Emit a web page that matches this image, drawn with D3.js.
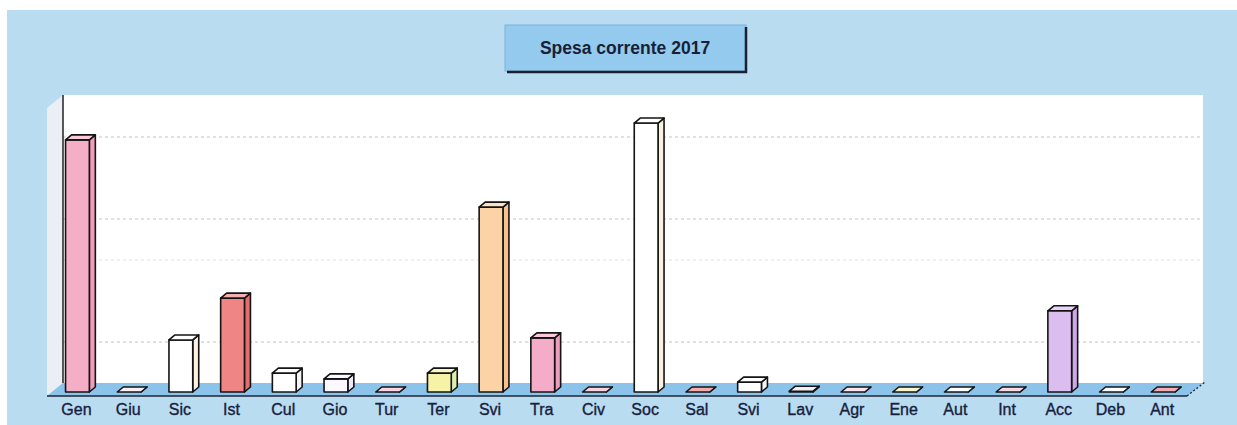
<!DOCTYPE html>
<meta charset="utf-8">
<style>
body { margin: 0; background: #fff; }
.axis text { font: 16px "Liberation Sans", Arial, sans-serif; fill: #17203c; stroke: #17203c; stroke-width: 0.35; }
.title { font: bold 17.5px "Liberation Sans", Arial, sans-serif; fill: #1a1f38; }
.grid line { stroke: #b4b4b4; stroke-dasharray: 3,3; }
</style>
<svg width="1237" height="425"></svg>
<script src="https://d3js.org/d3.v7.min.js"></script>
<script>

var categories = ["Gen", "Giu", "Sic", "Ist", "Cul", "Gio", "Tur", "Ter", "Svi", "Tra", "Civ",
                  "Soc", "Sal", "Svi", "Lav", "Agr", "Ene", "Aut", "Int", "Acc", "Deb", "Ant"];

// heights, in gridline units
var values = [6.15, 0, 1.27, 2.29, 0.46, 0.32, 0, 0.46, 4.51, 1.32, 0,
              6.56, 0, 0.24, 0.02, 0, 0, 0, 0, 1.98, 0, 0];

var frontColors = ["#f4aec6", "#fde6ef", "#ffffff", "#ef8585", "#ffffff", "#fbf8ff", "#f7c0d4", "#f6f3a8", "#fbd3a6", "#f5acc8", "#f5bcd0",
                   "#ffffff", "#ee8080", "#ffffff", "#e6e6ee", "#f8d6e4", "#f8f0b0", "#ffffff", "#f6c6d2", "#dcbdf0", "#ffffff", "#ee7f90"];

var sideColors = ["#f09cba", "#fde6ef", "#fcf1e2", "#e46e6e", "#f4f4f4", "#eee8f8", "#f7c0d4", "#dcefae", "#f6c18c", "#ee9cbc", "#f5bcd0",
                  "#fcf0e0", "#ee8080", "#f4f4f4", "#e6e6ee", "#f8d6e4", "#f8f0b0", "#ffffff", "#f6c6d2", "#cca8e6", "#ffffff", "#ee7f90"];

var gridTicks = [1, 3, 4, 6];

var svg = d3.select("svg");

var plot = {left: 63, right: 1203, top: 95, back: 383, front: 396},
    depth = {x: 6, y: 5};

var x = d3.scaleBand()
    .domain(d3.range(categories.length))
    .range([51.6, 1189])
    .paddingInner(0.54)
    .paddingOuter(0.27);

var y = d3.scaleLinear()
    .domain([0, 7])
    .range([392, 105]);

// outer blue panel
svg.append("rect")
    .attr("x", 7).attr("y", 10)
    .attr("width", 1230).attr("height", 415)
    .attr("fill", "#b9dcf1");

// title box
svg.append("rect")
    .attr("x", 505).attr("y", 25)
    .attr("width", 241).attr("height", 46)
    .attr("fill", "#93caee")
    .attr("stroke", "#7ab4dc")
    .attr("stroke-width", 1);

svg.append("path")
    .attr("d", "M746,27V72H507")
    .attr("fill", "none")
    .attr("stroke", "#1c1f30")
    .attr("stroke-width", 2.5);

svg.append("text")
    .attr("class", "title")
    .attr("x", 625).attr("y", 54)
    .attr("text-anchor", "middle")
    .text("Spesa corrente 2017");

// back wall
svg.append("rect")
    .attr("x", plot.left).attr("y", plot.top)
    .attr("width", plot.right - plot.left)
    .attr("height", plot.back - plot.top)
    .attr("fill", "#fff");

// left wall
svg.append("path")
    .attr("d", "M47,108L63,95L63,383L47,396Z")
    .attr("fill", "#eceef6");

// gridlines on the back wall
svg.append("g")
    .attr("class", "grid")
  .selectAll("line")
    .data(gridTicks)
  .enter().append("line")
    .attr("x1", plot.left)
    .attr("x2", plot.right)
    .attr("y1", function(d) { return y(d) - 9; })
    .attr("y2", function(d) { return y(d) - 9; })
    .attr("opacity", function(d) { return d == 3 ? 0.4 : 0.8; });

// floor
svg.append("path")
    .attr("d", "M47,396L1187,396L1203,383L63,383Z")
    .attr("fill", "#8bc3ea");

svg.append("line")
    .attr("x1", plot.left).attr("x2", plot.left)
    .attr("y1", plot.top).attr("y2", plot.back)
    .attr("stroke", "#222")
    .attr("stroke-width", 1.5);

svg.append("line")
    .attr("x1", 47).attr("x2", 1187)
    .attr("y1", 396).attr("y2", 396)
    .attr("stroke", "#1e2433")
    .attr("stroke-width", 1.6);

svg.append("line")
    .attr("x1", 1187).attr("x2", 1205)
    .attr("y1", 396).attr("y2", 382)
    .attr("stroke", "#1e2433")
    .attr("stroke-width", 1.3)
    .attr("stroke-dasharray", "2,2");

// 3d bars
var bar = svg.append("g")
  .selectAll("g")
    .data(values)
  .enter().append("g")
    .attr("stroke", "#141414")
    .attr("stroke-width", 1.6)
    .attr("stroke-linejoin", "round");

var x0 = function(d, i) { return x(i); },
    x1 = function(d, i) { return x(i) + x.bandwidth(); };

bar.append("path")
    .attr("fill", function(d, i) { return sideColors[i]; })
    .attr("d", function(d, i) {
      var a = x1(d, i), t = y(d), b = y(0);
      return "M" + a + "," + t + "L" + (a + depth.x) + "," + (t - depth.y) +
             "L" + (a + depth.x) + "," + (b - depth.y) + "L" + a + "," + b + "Z";
    });

bar.append("rect")
    .attr("fill", function(d, i) { return frontColors[i]; })
    .attr("x", x0)
    .attr("y", function(d) { return y(d); })
    .attr("width", x.bandwidth())
    .attr("height", function(d) { return y(0) - y(d); });

bar.append("path")
    .attr("fill", function(d, i) { return d3.interpolateRgb(frontColors[i], "#fff")(0.35); })
    .attr("d", function(d, i) {
      var a = x0(d, i), c = x1(d, i), t = y(d);
      return "M" + a + "," + t + "L" + (a + depth.x) + "," + (t - depth.y) +
             "L" + (c + depth.x) + "," + (t - depth.y) + "L" + c + "," + t + "Z";
    });

// category labels
svg.append("g")
    .attr("class", "axis")
    .attr("transform", "translate(-1," + 401 + ")")
    .call(d3.axisBottom(x).tickSize(0).tickPadding(3)
      .tickFormat(function(i) { return categories[i]; }))
    .call(function(g) { g.select(".domain").remove(); });

</script>
